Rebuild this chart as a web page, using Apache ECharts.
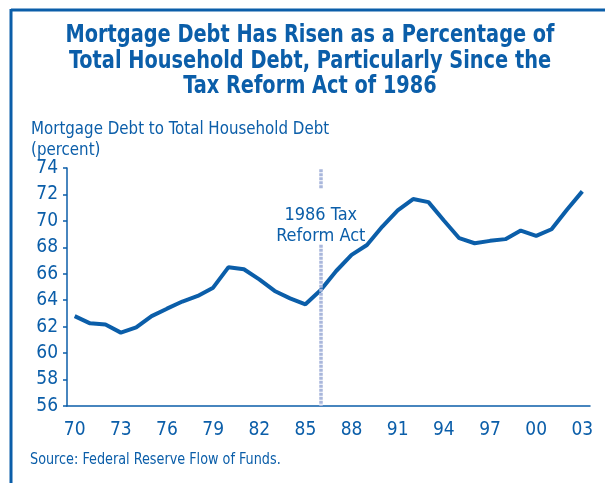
<!DOCTYPE html>
<html>
<head>
<meta charset="utf-8">
<script src="https://cdn.jsdelivr.net/npm/echarts@6/dist/echarts.min.js"></script>
<style>
  html, body { margin: 0; padding: 0; background: #ffffff; }
  #chart { width: 605px; height: 483px; }
</style>
</head>
<body>
<div id="chart"></div>
<script>
// Years shown on the category axis (two-digit labels every third year)
const years = [
  '1970','1971','1972','1973','1974','1975','1976','1977','1978','1979',
  '1980','1981','1982','1983','1984','1985','1986','1987','1988','1989',
  '1990','1991','1992','1993','1994','1995','1996','1997','1998','1999',
  '2000','2001','2002','2003'
];
// Mortgage debt as a share of total household debt (percent)
const mortgageShare = [
  62.8, 62.25, 62.17, 61.55, 61.94, 62.8, 63.36, 63.9, 64.32, 64.95,
  66.5, 66.34, 65.58, 64.7, 64.14, 63.69, 64.77, 66.21, 67.43, 68.18,
  69.57, 70.79, 71.65, 71.42, 70.03, 68.69, 68.31, 68.49, 68.62, 69.27,
  68.87, 69.37, 70.84, 72.23
];
const yTicks = [56, 58, 60, 62, 64, 66, 68, 70, 72, 74];
const eventYear = '1986';
const eventLabel = '1986 Tax\nReform Act';

const BLUE = '#0b5ea9';
const FONT = '"Liberation Sans Narrow", "DejaVu Sans Condensed", sans-serif';

const chart = echarts.init(document.getElementById('chart'), null, { renderer: 'canvas' });

chart.setOption({
  backgroundColor: '#ffffff',
  animation: false,
  graphic: [
    // frame along the top and left edges
    { type: 'line', shape: { x1: 11, y1: 10, x2: 605, y2: 10 }, style: { stroke: BLUE, lineWidth: 3 } },
    { type: 'line', shape: { x1: 11, y1: 9, x2: 11, y2: 483 }, style: { stroke: BLUE, lineWidth: 3 } },
    // headline, set in a condensed bold face
    {
      type: 'text', x: 310, y: 23, scaleX: 0.86,
      style: {
        text: 'Mortgage Debt Has Risen as a Percentage of\nTotal Household Debt, Particularly Since the\nTax Reform Act of 1986',
        fill: BLUE, font: 'bold 25px ' + FONT, lineHeight: 25.5,
        textAlign: 'center', textVerticalAlign: 'top'
      }
    },
    {
      type: 'text', x: 31, y: 119, scaleX: 0.93,
      style: {
        text: 'Mortgage Debt to Total Household Debt\n(percent)',
        fill: BLUE, font: '18px ' + FONT, lineHeight: 21
      }
    },
    {
      type: 'text', x: 30, y: 453, scaleX: 0.95,
      style: { text: 'Source: Federal Reserve Flow of Funds.', fill: BLUE, font: '15px ' + FONT }
    }
  ],
  grid: { left: 67, right: 15, top: 168, bottom: 77, containLabel: false },
  xAxis: {
    type: 'category',
    data: years,
    boundaryGap: true,
    axisLine: { lineStyle: { color: BLUE, width: 1.5 } },
    axisTick: { inside: true, length: 4, interval: 0, lineStyle: { color: BLUE, width: 1.5 } },
    axisLabel: {
      interval: (i) => i % 3 === 0,
      formatter: (v) => v.slice(2),
      color: BLUE, fontFamily: FONT, fontSize: 19, margin: 15
    },
    splitLine: { show: false }
  },
  yAxis: {
    type: 'value',
    min: yTicks[0],
    max: yTicks[yTicks.length - 1],
    interval: 2,
    axisLine: { show: true, lineStyle: { color: BLUE, width: 1.5 } },
    axisTick: { show: true, length: 4, lineStyle: { color: BLUE, width: 1.5 } },
    axisLabel: { color: BLUE, fontFamily: FONT, fontSize: 19, margin: 9 },
    splitLine: { show: false }
  },
  series: [
    {
      type: 'line',
      data: mortgageShare,
      symbol: 'none',
      lineStyle: { color: BLUE, width: 4 },
      z: 3,
      markLine: {
        silent: true,
        symbol: 'none',
        label: { show: false },
        lineStyle: { color: '#a9b7dc', width: 3.5, type: [3, 1] },
        data: [
          [{ coord: [eventYear, 73.9] }, { coord: [eventYear, 72.45] }],
          [{ coord: [eventYear, 68.2] }, { coord: [eventYear, 56] }]
        ]
      },
      markPoint: {
        silent: true,
        symbol: 'rect',
        symbolSize: 1,
        itemStyle: { color: 'rgba(0,0,0,0)' },
        data: [{ coord: [eventYear, 69.6] }],
        label: {
          show: true,
          position: 'inside',
          formatter: eventLabel,
          color: BLUE, fontFamily: FONT, fontSize: 18, lineHeight: 21,
          align: 'center', verticalAlign: 'middle'
        }
      }
    }
  ]
});
</script>
</body>
</html>
